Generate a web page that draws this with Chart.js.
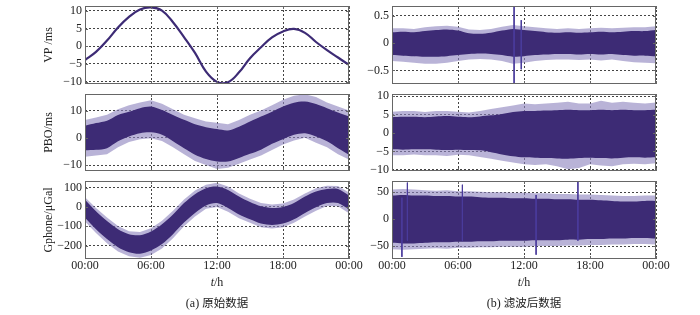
<!DOCTYPE html>
<html>
<head>
<meta charset="utf-8">
<script src="https://cdn.jsdelivr.net/npm/chart.js@4.4.0/dist/chart.umd.min.js"></script>
<style>
  body { margin:0; background:#fff; width:700px; height:315px; overflow:hidden; position:relative; }
  canvas { position:absolute; }
  .lbl { position:absolute; text-align:center; font-size:12px; color:#222; font-family:"Liberation Serif", serif; }
  .cap { font-family:"Liberation Serif", "Noto Sans CJK SC", serif; }
  .cap span { font-family:"Noto Sans CJK SC", sans-serif; font-size:11.5px; }
</style>
</head>
<body>
<canvas id="vpRaw" width="339" height="106"></canvas>
<canvas id="pboRaw" width="339" height="105"></canvas>
<canvas id="gpRaw" width="339" height="114"></canvas>
<canvas id="vpFilt" width="339" height="106"></canvas>
<canvas id="pboFilt" width="339" height="105"></canvas>
<canvas id="gpFilt" width="339" height="114"></canvas>

<div class="lbl" style="left:167px; top:275px; width:100px;"><i>t</i>/h</div>
<div class="lbl" style="left:474px; top:275px; width:100px;"><i>t</i>/h</div>
<div class="lbl cap" style="left:117px; top:294px; width:200px;">(a) <span>原始数据</span></div>
<div class="lbl cap" style="left:424px; top:294px; width:200px;">(b) <span>滤波后数据</span></div>

<script>
// Fig: VP / PBO / Gphone, raw vs filtered (24 h)

//---X AXIS
const hours = [0,1,2,3,4,5,6,7,8,9,10,11,12,13,14,15,16,17,18,19,20,21,22,23,24];
const xTicks = [0,6,12,18,24];
const xTickLabels = ['00:00','06:00','12:00','18:00','00:00'];

//---RAW: VP (ms)
const vpValues = [-3.9,-1.6,1.6,5.3,8.3,10.4,11,10.1,6.8,2.6,-1.9,-7.2,-10.1,-10.2,-7.4,-3.4,-0.3,2.5,4.2,4.9,3.8,1.2,-1.1,-3.2,-5.3];
const vpTicks = [-10,-5,0,5,10];

//---RAW: PBO (ms), dense band + outer spikes
const pboUpper = [4.4,5.4,6.3,8.4,9.6,10.9,11.5,10.2,8.4,6.6,5,3.9,3.2,2.7,4.1,6,7.8,9.6,11.5,12.9,13.3,12.4,10.9,9.3,7.8];
const pboLower = [-4.6,-4.4,-3.8,-1.3,0.5,1.7,2,1.1,-1.3,-3.8,-6.2,-7.8,-8.7,-8.7,-7.4,-5.9,-4.4,-2.2,-0.5,1.1,1.7,0.5,-1.3,-3.8,-6.2];
const pboSpikeUpper = [6.5,7.5,8.5,10.5,12,13,13.8,12.5,10.5,8.5,7.2,6,5.5,5,6.5,8.5,10,12,14,15.5,16,15,13,11.5,10];
const pboSpikeLower = [-7,-6.5,-6,-3.5,-1.5,-0.5,-0.2,-1.2,-3.5,-6,-8.5,-10,-11.5,-11,-9.5,-8,-6.5,-4.5,-2.5,-1,0,-1.8,-3.5,-6,-8];
const pboTicks = [-10,0,10];

//---RAW: Gphone (uGal)
const gpUpper = [37,-22,-73,-115,-141,-146,-127,-90,-39,20,66,97,105,88,54,25,3,-5,0,20,54,80,93,93,59];
const gpLower = [-56,-115,-166,-208,-234,-242,-225,-192,-141,-81,-31,8,20,-5,-39,-64,-86,-93,-86,-64,-31,-2,20,20,-14];
const gpSpikeUpper = [50,-5,-55,-98,-125,-130,-110,-72,-20,38,85,115,125,105,70,42,20,12,18,38,70,97,110,108,75];
const gpSpikeLower = [-75,-135,-188,-230,-255,-262,-248,-215,-162,-100,-50,-10,0,-25,-58,-82,-105,-112,-105,-82,-50,-20,5,3,-32];
const gpTicks = [-200,-100,0,100];

//---FILTERED: VP
const vpfUpper = [0.2,0.21,0.2,0.22,0.24,0.25,0.23,0.18,0.17,0.19,0.23,0.26,0.24,0.22,0.2,0.19,0.2,0.19,0.2,0.21,0.2,0.21,0.22,0.22,0.24];
const vpfLower = [-0.22,-0.23,-0.24,-0.25,-0.25,-0.24,-0.22,-0.2,-0.19,-0.2,-0.22,-0.25,-0.24,-0.22,-0.21,-0.2,-0.2,-0.21,-0.2,-0.21,-0.2,-0.22,-0.23,-0.23,-0.24];
const vpfSpikeUpper = [0.27,0.27,0.26,0.29,0.31,0.32,0.3,0.25,0.24,0.26,0.3,0.33,0.31,0.29,0.27,0.26,0.27,0.26,0.27,0.28,0.27,0.28,0.29,0.29,0.31];
const vpfSpikeLower = [-0.33,-0.34,-0.36,-0.38,-0.38,-0.36,-0.33,-0.3,-0.29,-0.3,-0.33,-0.38,-0.36,-0.33,-0.31,-0.3,-0.3,-0.31,-0.3,-0.32,-0.3,-0.33,-0.35,-0.36,-0.37];
const vpfPeakTimes = [11.1,11.75];
const vpfPeakTop = [0.8,0.42];
const vpfPeakBottom = [-0.8,-0.48];
const vpfTicks = [-0.5,0,0.5];

//---FILTERED: PBO
const pbofUpper = [4.3,4.4,4.4,4.3,4.5,4.6,4.4,4.3,4.5,4.8,5.2,5.7,6,6,6.1,6.2,6.3,6.2,6.2,6.3,6.2,6.3,6.2,6.2,6.3];
const pbofLower = [-4.4,-4.5,-4.4,-4.4,-4.5,-4.6,-4.5,-4.6,-4.7,-5.2,-5.8,-6.3,-6.6,-6.7,-6.8,-6.9,-7,-6.8,-6.7,-6.8,-6.9,-6.7,-6.6,-6.7,-6.6];
const pbofSpikeUpper = [5.8,6,6,5.7,6,6,5.8,5.6,6,6.5,7,7.5,8,7.8,8,8.2,8.5,8,8,8.8,8.2,8.5,8.2,8,8.3];
const pbofSpikeLower = [-6,-6,-5.8,-6,-6,-6.2,-5.9,-6,-6.5,-7,-7.5,-8,-8.5,-8.7,-8.5,-9,-9.8,-9.5,-8.5,-8.8,-9,-8.5,-8.3,-8.5,-8.2];
const pbofTicks = [-10,-5,0,5,10];

//---FILTERED: Gphone
const gpfUpper = [44,45,44,44,43,43,42,42,41,40,40,39,39,38,38,37,37,36,36,35,34,33,33,34,34];
const gpfLower = [-44,-45,-45,-44,-43,-43,-42,-42,-41,-41,-40,-40,-40,-39,-39,-39,-38,-38,-37,-37,-36,-36,-35,-35,-36];
const gpfSpikeUpper = [55,56,55,54,53,54,52,52,51,50,50,49,49,48,48,47,47,46,46,45,44,43,43,44,44];
const gpfSpikeLower = [-56,-57,-56,-55,-54,-55,-53,-53,-52,-52,-51,-51,-51,-50,-50,-50,-49,-49,-48,-48,-47,-47,-46,-46,-47];
const gpfPeakTimes = [0.9,1.4,6.4,13.1,16.9];
const gpfPeakTop = [40,68,64,45,70];
const gpfPeakBottom = [-70,-40,-40,-66,-40];
const gpfTicks = [-50,0,50];

//---COLORS
const dark = '#3d2b75';
const light = 'rgba(139,128,189,0.6)';
const peak = '#4a3c9c';
const serif = '"Liberation Serif", "Times New Roman", serif';

Chart.defaults.font.family = serif;
Chart.defaults.font.size = 12;
Chart.defaults.color = '#222';

function pts(values){
  return hours.map((h, i) => ({x: h, y: values[i]}));
}

// lower index is drawn on top: dense core first, light spikes behind it
function bandSets(spUp, spLo, up, lo){
  return [
    {data: pts(up), fill: '+1', backgroundColor: dark, borderWidth: 0, pointRadius: 0, tension: 0.3},
    {data: pts(lo), fill: false, borderWidth: 0, pointRadius: 0, tension: 0.3},
    {data: pts(spUp), fill: '+1', backgroundColor: light, borderWidth: 0, pointRadius: 0, tension: 0},
    {data: pts(spLo), fill: false, borderWidth: 0, pointRadius: 0, tension: 0},
  ];
}

function peakSet(times, tops, bottoms){
  let d = [];
  times.forEach((t, i) => {
    d.push({x: t, y: tops[i]}, {x: t, y: bottoms[i]}, {x: t, y: null});
  });
  return {data: d, borderColor: peak, borderWidth: 1, pointRadius: 0, spanGaps: false, fill: false};
}

//---BOX + INNER TICKS
const boxPlugin = {
  id: 'box',
  afterDraw(chart){
    const {ctx, chartArea: a, scales} = chart;
    ctx.save();
    ctx.strokeStyle = '#666';
    ctx.lineWidth = 1;
    ctx.strokeRect(a.left + 0.5, a.top + 0.5, a.width - 1, a.height - 1);
    ctx.beginPath();
    scales.x.ticks.forEach(t => {
      const px = Math.round(scales.x.getPixelForValue(t.value)) + 0.5;
      ctx.moveTo(px, a.bottom); ctx.lineTo(px, a.bottom - 3);
      ctx.moveTo(px, a.top); ctx.lineTo(px, a.top + 3);
    });
    scales.y.ticks.forEach(t => {
      const py = Math.round(scales.y.getPixelForValue(t.value)) + 0.5;
      ctx.moveTo(a.left, py); ctx.lineTo(a.left + 3, py);
      ctx.moveTo(a.right, py); ctx.lineTo(a.right - 3, py);
    });
    ctx.stroke();
    ctx.restore();
  }
};

function drawPanel(id, left, top, datasets, yMin, yMax, yTicks, yTitle, bottomRow){
  const cv = document.getElementById(id);
  cv.style.left = (left - 50) + 'px';
  cv.style.top = (top - 14) + 'px';

  return new Chart(cv.getContext('2d'), {
    type: 'line',
    data: {datasets: datasets},
    plugins: [boxPlugin],
    options: {
      responsive: false,
      animation: false,
      events: [],
      layout: {padding: {left: 0, right: 25, top: 14, bottom: bottomRow ? 2 : 14}},
      plugins: {legend: {display: false}, tooltip: {enabled: false}},
      scales: {
        x: {
          type: 'linear', min: 0, max: 24,
          afterBuildTicks: s => { s.ticks = xTicks.map(v => ({value: v})); },
          afterFit: s => { s.height = bottomRow ? 20 : 0; },
          ticks: {display: bottomRow, autoSkip: false, maxRotation: 0, padding: 0,
                  font: {family: serif, size: 12},
                  callback: (v, i) => xTickLabels[i]},
          grid: {color: '#444', drawTicks: false},
          border: {display: false, dash: [2, 2]}
        },
        y: {
          min: yMin, max: yMax,
          afterBuildTicks: s => { s.ticks = yTicks.map(v => ({value: v})); },
          afterFit: s => { s.width = 50; },
          ticks: {autoSkip: false, padding: 3, font: {family: serif, size: 12},
                  callback: v => String(v).replace('-', '\u2212')},
          grid: {color: '#444', drawTicks: false},
          border: {display: false, dash: [2, 2]},
          title: {display: !!yTitle, text: yTitle, padding: {top: 7, bottom: 0},
                  font: {family: serif, size: 12}}
        }
      }
    }
  });
}

let chart1, chart2, chart3, chart4, chart5, chart6;

chart1 = drawPanel('vpRaw', 85, 6, [
  {data: pts(vpValues), borderColor: dark, borderWidth: 2.2, pointRadius: 0, tension: 0.4, fill: false}
], -10.7, 11.4, vpTicks, 'VP /ms', false);

chart2 = drawPanel('pboRaw', 85, 94,
  bandSets(pboSpikeUpper, pboSpikeLower, pboUpper, pboLower), -12.2, 16.1, pboTicks, 'PBO/ms', false);

chart3 = drawPanel('gpRaw', 85, 181,
  bandSets(gpSpikeUpper, gpSpikeLower, gpUpper, gpLower), -269, 134, gpTicks, 'Gphone/\u03bcGal', true);

chart4 = drawPanel('vpFilt', 392, 6,
  [peakSet(vpfPeakTimes, vpfPeakTop, vpfPeakBottom)].concat(bandSets(vpfSpikeUpper, vpfSpikeLower, vpfUpper, vpfLower)),
  -0.75, 0.68, vpfTicks, '', false);

chart5 = drawPanel('pboFilt', 392, 94,
  bandSets(pbofSpikeUpper, pbofSpikeLower, pbofUpper, pbofLower), -10.3, 10.6, pbofTicks, '', false);

chart6 = drawPanel('gpFilt', 392, 181,
  [peakSet(gpfPeakTimes, gpfPeakTop, gpfPeakBottom)].concat(bandSets(gpfSpikeUpper, gpfSpikeLower, gpfUpper, gpfLower)),
  -74, 71, gpfTicks, '', true);
</script>
</body>
</html>
